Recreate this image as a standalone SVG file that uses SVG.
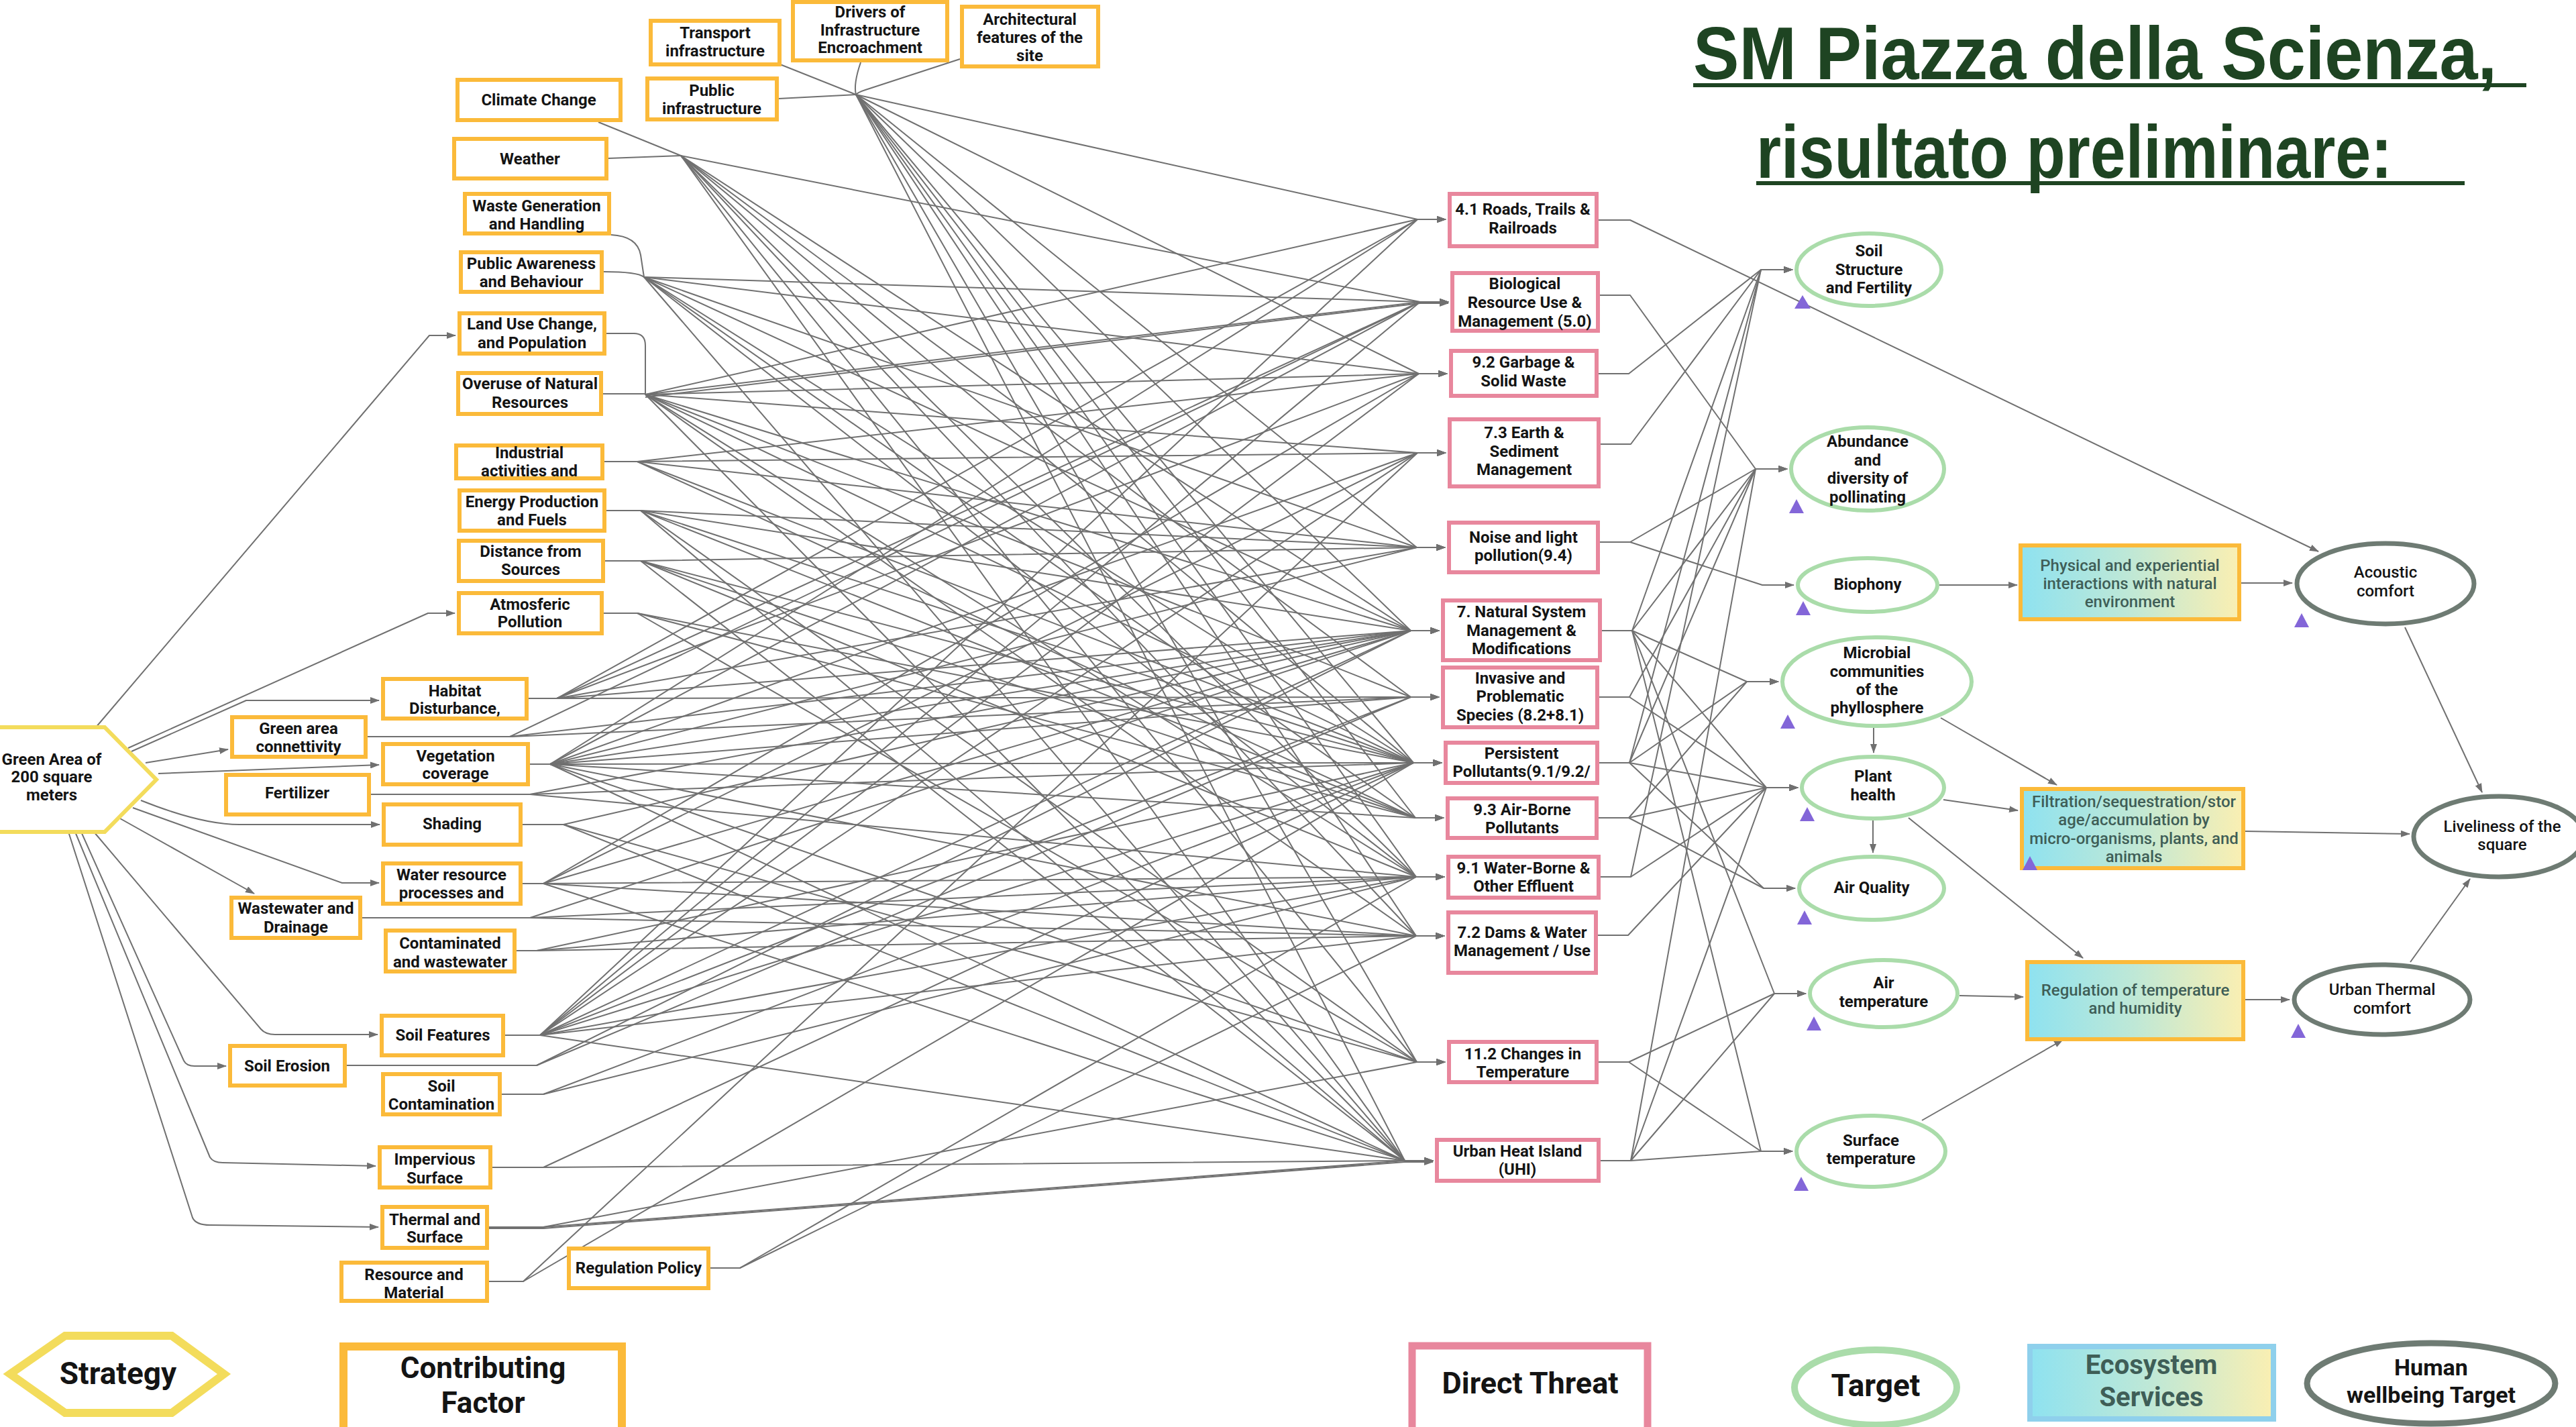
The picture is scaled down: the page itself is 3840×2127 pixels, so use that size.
<svg xmlns="http://www.w3.org/2000/svg" width="3840" height="2127" viewBox="0 0 3840 2127">
<style>
.cf{fill:#fff;stroke:#FBBA3A;stroke-width:6}
.dt{fill:#fff;stroke:#E8879D;stroke-width:6}
.tg{fill:#fff;stroke:#AADCAA;stroke-width:6}
.hw{fill:#fff;stroke:#6E7B73;stroke-width:7}
.es{fill:url(#esg);stroke:#FBBA3A;stroke-width:6}
.st{fill:#fff;stroke:#F3DC5C;stroke-width:6}
.t{font-family:Roboto,"Liberation Sans",sans-serif;font-weight:700;font-size:24px;fill:#141414;text-anchor:middle}
.tm{font-weight:500}
.te{fill:#3F5E57;font-weight:500}
.e{fill:none;stroke:#707070;stroke-width:2;marker-end:url(#ah);stroke-linejoin:round}
.en{fill:none;stroke:#707070;stroke-width:2;stroke-linejoin:round}
.tri{fill:#8366D8}
.ttl{font-family:"Liberation Sans",Arial,sans-serif;font-weight:700;font-size:112px;fill:#1E4422}
.lg{font-family:Roboto,"Liberation Sans",sans-serif;font-weight:700;fill:#141414;text-anchor:middle}
</style>
<defs>
<marker id="ah" markerUnits="userSpaceOnUse" markerWidth="14" markerHeight="10" refX="13" refY="5" orient="auto"><path d="M0,0 L14,5 L0,10 z" fill="#707070"/></marker>
<linearGradient id="esg" x1="0" y1="0" x2="1" y2="0"><stop offset="0" stop-color="#8EE2F0"/><stop offset="0.5" stop-color="#BFE8D6"/><stop offset="1" stop-color="#FAEFB2"/></linearGradient>
</defs>
<rect width="3840" height="2127" fill="#fff"/>

<g id="title">
<text class="ttl" x="2524" y="118" textLength="1198" lengthAdjust="spacingAndGlyphs">SM Piazza della Scienza,</text>
<rect x="2524" y="124" width="1242" height="6" fill="#1E4422"/>
<text class="ttl" x="2618" y="265" textLength="948" lengthAdjust="spacingAndGlyphs">risultato preliminare:</text>
<rect x="2618" y="270" width="1056" height="6" fill="#1E4422"/>
</g>

<g id="connectors">
<!-- strategy to factors -->
<path class="e" d="M143 1084 L640 500 H679"/>
<path class="e" d="M191 1115 L638 914 H678"/>
<path class="e" d="M196 1120 L367 1044 H565"/>
<path class="e" d="M217 1137 L340 1117"/>
<path class="e" d="M236 1153 L565 1140"/>
<path class="e" d="M210 1193 Q300 1229 357 1229 H566"/>
<path class="e" d="M198 1204 L510 1316 H565"/>
<path class="e" d="M179 1220 L379 1332"/>
<path class="e" d="M140 1240 L389 1534 Q396 1542 410 1542 H563"/>
<path class="e" d="M121 1240 L274 1581 Q278 1589 290 1589 H337"/>
<path class="e" d="M112 1240 L313 1725 Q318 1733 332 1733 L560 1738"/>
<path class="e" d="M102 1240 L287 1815 Q292 1826 313 1826 L564 1829"/>
<!-- feeders into merge points -->
<path class="en" d="M1163 96 L1276 141"/>
<path class="en" d="M1161 147 L1276 141"/>
<path class="en" d="M1283 93 Q1272 125 1276 141"/>
<path class="en" d="M1431 88 L1290 134 Q1278 138 1276 141"/>
<path class="en" d="M892 182 L1015 232"/>
<path class="en" d="M907 236 L1015 232"/>
<path class="en" d="M911 350 Q950 352 955 380 L960 413"/>
<path class="en" d="M900 405 Q950 405 960 413"/>
<path class="en" d="M904 497 H945 Q962 497 962 515 V588"/>
<path class="en" d="M899 587 H962"/>
<!-- M1 infrastructure group -->
<path class="e" d="M1276 141 L2113 327 H2155"/>
<path class="e" d="M1276 141 L2115 557 H2157"/>
<path class="e" d="M1276 141 L2112 816 H2154"/>
<path class="e" d="M1276 141 L2103 940 H2145"/>
<path class="e" d="M1276 141 L2107 1137 H2149"/>
<path class="e" d="M1276 141 L2110 1219 H2152"/>
<path class="e" d="M1276 141 L2111 1307 H2153"/>
<path class="e" d="M1276 141 L2111 1395 H2153"/>
<path class="e" d="M1276 141 L2112 1583 H2154"/>
<path class="e" d="M1276 141 L2094 1730 H2136"/>
<!-- M2 climate/weather -->
<path class="e" d="M1015 232 L2117 450 H2159"/>
<path class="e" d="M1015 232 L2103 940 H2145"/>
<path class="e" d="M1015 232 L2103 1039 H2145"/>
<path class="e" d="M1015 232 L2107 1137 H2149"/>
<path class="e" d="M1015 232 L2111 1307 H2153"/>
<path class="e" d="M1015 232 L2111 1395 H2153"/>
<path class="e" d="M1015 232 L2112 1583 H2154"/>
<path class="e" d="M1015 232 L2094 1730 H2136"/>
<!-- M3 waste/awareness -->
<path class="e" d="M960 413 L2117 450 H2159"/>
<path class="e" d="M960 413 L2115 557 H2157"/>
<path class="e" d="M960 413 L2112 816 H2154"/>
<path class="e" d="M960 413 L2103 940 H2145"/>
<path class="e" d="M960 413 L2107 1137 H2149"/>
<path class="e" d="M960 413 L2110 1219 H2152"/>
<path class="e" d="M960 413 L2111 1307 H2153"/>
<path class="e" d="M960 413 L2094 1730 H2136"/>
<!-- M4 land use/overuse -->
<path class="e" d="M962 588 L2113 327 H2155"/>
<path class="e" d="M962 588 L2117 450 H2159"/>
<path class="e" d="M962 592 L2117 452 H2159"/>
<path class="e" d="M962 588 L2115 557 H2157"/>
<path class="e" d="M962 588 L2113 675 H2155"/>
<path class="e" d="M962 588 L2103 940 H2145"/>
<path class="e" d="M962 588 L2103 1039 H2145"/>
<path class="e" d="M962 588 L2107 1137 H2149"/>
<path class="e" d="M962 588 L2111 1307 H2153"/>
<path class="e" d="M962 588 L2111 1395 H2153"/>
<path class="e" d="M962 588 L2094 1730 H2136"/>
<!-- industrial -->
<path class="e" d="M901 688 H950 L2115 557 H2157"/>
<path class="e" d="M901 688 H950 L2113 675 H2155"/>
<path class="e" d="M901 688 H950 L2112 816 H2154"/>
<path class="e" d="M901 688 H950 L2107 1137 H2149"/>
<path class="e" d="M901 688 H950 L2110 1219 H2152"/>
<!-- energy -->
<path class="e" d="M904 761 H955 L2112 816 H2154"/>
<path class="e" d="M904 761 H955 L2103 940 H2145"/>
<path class="e" d="M904 761 H955 L2107 1137 H2149"/>
<path class="e" d="M904 761 H955 L2110 1219 H2152"/>
<path class="e" d="M904 761 H955 L2112 1583 H2154"/>
<path class="e" d="M904 761 H955 L2094 1730 H2136"/>
<!-- distance -->
<path class="e" d="M902 836 H955 L2112 816 H2154"/>
<path class="e" d="M902 836 H955 L2107 1137 H2149"/>
<path class="e" d="M902 836 H955 L2110 1219 H2152"/>
<path class="e" d="M902 836 H955 L2111 1307 H2153"/>
<path class="e" d="M902 836 H955 L2094 1730 H2136"/>
<!-- atmosferic -->
<path class="e" d="M900 914 H950 L2107 1137 H2149"/>
<path class="e" d="M900 914 H950 L2110 1219 H2152"/>
<path class="e" d="M900 914 H950 L2112 1583 H2154"/>
<!-- habitat -->
<path class="e" d="M788 1041 H830 L2113 327 H2155"/>
<path class="e" d="M788 1041 H830 L2117 450 H2159"/>
<path class="e" d="M788 1041 H830 L2115 557 H2157"/>
<path class="e" d="M788 1041 H830 L2112 816 H2154"/>
<path class="e" d="M788 1041 H830 L2103 940 H2145"/>
<path class="e" d="M788 1041 H830 L2103 1039 H2145"/>
<!-- green area connectivity -->
<path class="e" d="M548 1098 H760 L2117 450 H2159"/>
<path class="e" d="M548 1098 H760 L2103 940 H2145"/>
<path class="e" d="M548 1098 H760 L2103 1039 H2145"/>
<!-- vegetation -->
<path class="e" d="M790 1139 H820 L2113 327 H2155"/>
<path class="e" d="M790 1139 H820 L2117 450 H2159"/>
<path class="e" d="M790 1139 H820 L2113 675 H2155"/>
<path class="e" d="M790 1139 H820 L2112 816 H2154"/>
<path class="e" d="M790 1139 H820 L2103 940 H2145"/>
<path class="e" d="M790 1139 H820 L2103 1039 H2145"/>
<path class="e" d="M790 1139 H820 L2107 1137 H2149"/>
<path class="e" d="M790 1139 H820 L2110 1219 H2152"/>
<path class="e" d="M790 1139 H820 L2111 1395 H2153"/>
<path class="e" d="M790 1139 H820 L2112 1583 H2154"/>
<path class="e" d="M790 1139 H820 L2094 1730 H2136"/>
<!-- fertilizer -->
<path class="e" d="M553 1184 H790 L2103 940 H2145"/>
<path class="e" d="M553 1184 H790 L2107 1137 H2149"/>
<path class="e" d="M553 1184 H790 L2111 1307 H2153"/>
<!-- shading -->
<path class="e" d="M779 1229 H840 L2103 940 H2145"/>
<path class="e" d="M779 1229 H840 L2112 1583 H2154"/>
<path class="e" d="M779 1229 H840 L2094 1730 H2136"/>
<!-- water resource -->
<path class="e" d="M779 1317 H810 L2115 557 H2157"/>
<path class="e" d="M779 1317 H810 L2113 675 H2155"/>
<path class="e" d="M779 1317 H810 L2103 940 H2145"/>
<path class="e" d="M779 1317 H810 L2111 1307 H2153"/>
<path class="e" d="M779 1317 H810 L2111 1395 H2153"/>
<path class="e" d="M779 1317 H810 L2094 1730 H2136"/>
<!-- wastewater -->
<path class="e" d="M540 1368 H790 L2103 940 H2145"/>
<path class="e" d="M540 1368 H790 L2111 1307 H2153"/>
<path class="e" d="M540 1368 H790 L2111 1395 H2153"/>
<!-- contaminated -->
<path class="e" d="M770 1417 H800 L2107 1137 H2149"/>
<path class="e" d="M770 1417 H800 L2111 1307 H2153"/>
<path class="e" d="M770 1417 H800 L2111 1395 H2153"/>
<!-- soil features -->
<path class="e" d="M753 1543 H805 L2113 327 H2155"/>
<path class="e" d="M753 1543 H805 L2117 450 H2159"/>
<path class="e" d="M753 1543 H805 L2115 557 H2157"/>
<path class="e" d="M753 1543 H805 L2113 675 H2155"/>
<path class="e" d="M753 1543 H805 L2103 940 H2145"/>
<path class="e" d="M753 1543 H805 L2103 1039 H2145"/>
<path class="e" d="M753 1543 H805 L2107 1137 H2149"/>
<path class="e" d="M753 1543 H805 L2111 1307 H2153"/>
<path class="e" d="M753 1543 H805 L2111 1395 H2153"/>
<path class="e" d="M753 1543 H805 L2094 1730 H2136"/>
<!-- soil erosion -->
<path class="e" d="M517 1588 H800 L2103 940 H2145"/>
<path class="e" d="M517 1588 H800 L2103 1039 H2145"/>
<!-- soil contamination -->
<path class="e" d="M748 1631 H810 L2107 1137 H2149"/>
<path class="e" d="M748 1631 H810 L2111 1307 H2153"/>
<!-- impervious -->
<path class="e" d="M734 1740 H810 L2107 1137 H2149"/>
<path class="e" d="M734 1740 H810 L2094 1730 H2136"/>
<!-- thermal -->
<path class="e" d="M729 1829 H810 L2112 1583 H2154"/>
<path class="e" d="M729 1829 H810 L2094 1730 H2136"/>
<path class="e" d="M729 1831 H810 L2094 1732 H2136"/>
<!-- resource and material -->
<path class="e" d="M729 1910 H780 L2113 675 H2155"/>
<path class="e" d="M729 1910 H780 L2107 1137 H2149"/>
<!-- regulation policy -->
<path class="e" d="M1059 1890 H1103 L2111 1307 H2153"/>
<path class="e" d="M1059 1890 H1103 L2111 1395 H2153"/>

<!-- threats to targets -->
<path class="e" d="M2383 328 H2430 L3456 822"/>
<path class="e" d="M2385 440 h45 L2617 699 H2664"/>
<path class="e" d="M2383 557 h45 L2625 402 H2672"/>
<path class="e" d="M2386 662 h45 L2625 402 H2672"/>
<path class="e" d="M2385 808 h45 L2617 699 H2664"/>
<path class="e" d="M2385 808 h45 L2627 872 H2674"/>
<path class="e" d="M2388 940 h45 L2625 402 H2672"/>
<path class="e" d="M2388 940 h45 L2617 699 H2664"/>
<path class="e" d="M2388 940 h45 L2604 1016 H2651"/>
<path class="e" d="M2388 940 h45 L2633 1174 H2680"/>
<path class="e" d="M2388 940 h45 L2645 1481 H2692"/>
<path class="e" d="M2388 940 h45 L2625 1716 H2672"/>
<path class="e" d="M2384 1039 h45 L2617 699 H2664"/>
<path class="e" d="M2384 1039 h45 L2633 1174 H2680"/>
<path class="e" d="M2384 1137 h45 L2625 402 H2672"/>
<path class="e" d="M2384 1137 h45 L2617 699 H2664"/>
<path class="e" d="M2384 1137 h45 L2604 1016 H2651"/>
<path class="e" d="M2384 1137 h45 L2633 1174 H2680"/>
<path class="e" d="M2384 1137 h45 L2629 1324 H2676"/>
<path class="e" d="M2383 1219 h45 L2604 1016 H2651"/>
<path class="e" d="M2383 1219 h45 L2633 1174 H2680"/>
<path class="e" d="M2383 1219 h45 L2629 1324 H2676"/>
<path class="e" d="M2386 1307 h45 L2625 402 H2672"/>
<path class="e" d="M2386 1307 h45 L2633 1174 H2680"/>
<path class="e" d="M2382 1394 h45 L2633 1174 H2680"/>
<path class="e" d="M2383 1583 h45 L2645 1481 H2692"/>
<path class="e" d="M2383 1583 h45 L2625 1716 H2672"/>
<path class="e" d="M2386 1730 h45 L2617 699 H2664"/>
<path class="e" d="M2386 1730 h45 L2633 1174 H2680"/>
<path class="e" d="M2386 1730 h45 L2645 1481 H2692"/>
<path class="e" d="M2386 1730 h45 L2625 1716 H2672"/>
<!-- targets to services / wellbeing -->
<path class="e" d="M2891 872 H3007"/>
<path class="e" d="M2893 1070 L3066 1170"/>
<path class="e" d="M2793 1085 V1122"/>
<path class="e" d="M2897 1192 L3008 1208"/>
<path class="e" d="M2845 1219 L3105 1428"/>
<path class="e" d="M2792 1223 V1271"/>
<path class="e" d="M2921 1484 L3016 1486"/>
<path class="e" d="M2865 1670 L3075 1550"/>
<path class="e" d="M3341 869 H3417"/>
<path class="e" d="M3347 1239 L3592 1243"/>
<path class="e" d="M3347 1490 H3413"/>
<path class="e" d="M3585 935 L3700 1181"/>
<path class="e" d="M3593 1434 L3682 1310"/>
</g>

<g id="strategy-green-area">
<polygon class="st" points="-80,1162 -3,1084 156,1084 233,1162 156,1240 -3,1240"/>
<text class="t" x="77"><tspan x="77" y="1140">Green Area of</tspan><tspan x="77" y="1166">200 square</tspan><tspan x="77" y="1193">meters</tspan></text>
</g>

<g id="cf-transport"><rect class="cf" x="970" y="31" width="192" height="65"/><text class="t"><tspan x="1066" y="57">Transport</tspan><tspan x="1066" y="84">infrastructure</tspan></text></g>
<g id="cf-drivers"><rect class="cf" x="1182" y="3" width="230" height="87"/><text class="t"><tspan x="1297" y="26">Drivers of</tspan><tspan x="1297" y="53">Infrastructure</tspan><tspan x="1297" y="79">Encroachment</tspan></text></g>
<g id="cf-architectural"><rect class="cf" x="1434" y="10" width="203" height="89"/><text class="t"><tspan x="1535" y="37">Architectural</tspan><tspan x="1535" y="64">features of the</tspan><tspan x="1535" y="91">site</tspan></text></g>
<g id="cf-public-infra"><rect class="cf" x="965" y="117" width="193" height="61"/><text class="t"><tspan x="1061" y="143">Public</tspan><tspan x="1061" y="170">infrastructure</tspan></text></g>
<g id="cf-climate"><rect class="cf" x="682" y="119" width="243" height="60"/><text class="t" x="803" y="157">Climate Change</text></g>
<g id="cf-weather"><rect class="cf" x="677" y="207" width="227" height="59"/><text class="t" x="790" y="245">Weather</text></g>
<g id="cf-waste"><rect class="cf" x="693" y="289" width="215" height="59"/><text class="t"><tspan x="800" y="315">Waste Generation</tspan><tspan x="800" y="342">and Handling</tspan></text></g>
<g id="cf-awareness"><rect class="cf" x="687" y="376" width="210" height="59"/><text class="t"><tspan x="792" y="401">Public Awareness</tspan><tspan x="792" y="428">and Behaviour</tspan></text></g>
<g id="cf-landuse"><rect class="cf" x="685" y="467" width="216" height="60"/><text class="t"><tspan x="793" y="491">Land Use Change,</tspan><tspan x="793" y="519">and Population</tspan></text></g>
<g id="cf-overuse"><rect class="cf" x="683" y="556" width="213" height="61"/><text class="t"><tspan x="790" y="580">Overuse of Natural</tspan><tspan x="790" y="608">Resources</tspan></text></g>
<g id="cf-industrial"><rect class="cf" x="680" y="664" width="218" height="49"/><text class="t"><tspan x="789" y="683">Industrial</tspan><tspan x="789" y="710">activities and</tspan></text></g>
<g id="cf-energy"><rect class="cf" x="685" y="731" width="216" height="60"/><text class="t"><tspan x="793" y="756">Energy Production</tspan><tspan x="793" y="783">and Fuels</tspan></text></g>
<g id="cf-distance"><rect class="cf" x="684" y="806" width="215" height="60"/><text class="t"><tspan x="791" y="830">Distance from</tspan><tspan x="791" y="857">Sources</tspan></text></g>
<g id="cf-atmosferic"><rect class="cf" x="684" y="884" width="213" height="60"/><text class="t"><tspan x="790" y="909">Atmosferic</tspan><tspan x="790" y="935">Pollution</tspan></text></g>
<g id="cf-habitat"><rect class="cf" x="571" y="1012" width="214" height="59"/><text class="t"><tspan x="678" y="1038">Habitat</tspan><tspan x="678" y="1064">Disturbance,</tspan></text></g>
<g id="cf-green-connectivity"><rect class="cf" x="346" y="1069" width="199" height="59"/><text class="t"><tspan x="445" y="1094">Green area</tspan><tspan x="445" y="1121">connettivity</tspan></text></g>
<g id="cf-vegetation"><rect class="cf" x="571" y="1109" width="216" height="60"/><text class="t"><tspan x="679" y="1135">Vegetation</tspan><tspan x="679" y="1161">coverage</tspan></text></g>
<g id="cf-fertilizer"><rect class="cf" x="337" y="1155" width="213" height="59"/><text class="t" x="443" y="1190">Fertilizer</text></g>
<g id="cf-shading"><rect class="cf" x="572" y="1199" width="204" height="60"/><text class="t" x="674" y="1236">Shading</text></g>
<g id="cf-water"><rect class="cf" x="571" y="1287" width="205" height="60"/><text class="t"><tspan x="673" y="1312">Water resource</tspan><tspan x="673" y="1339">processes and</tspan></text></g>
<g id="cf-wastewater"><rect class="cf" x="345" y="1338" width="192" height="60"/><text class="t"><tspan x="441" y="1362">Wastewater and</tspan><tspan x="441" y="1390">Drainage</tspan></text></g>
<g id="cf-contaminated"><rect class="cf" x="575" y="1387" width="192" height="61"/><text class="t"><tspan x="671" y="1414">Contaminated</tspan><tspan x="671" y="1442">and wastewater</tspan></text></g>
<g id="cf-soil-features"><rect class="cf" x="569" y="1514" width="181" height="59"/><text class="t" x="660" y="1551">Soil Features</text></g>
<g id="cf-soil-erosion"><rect class="cf" x="343" y="1559" width="171" height="59"/><text class="t" x="428" y="1597">Soil Erosion</text></g>
<g id="cf-soil-contamination"><rect class="cf" x="571" y="1601" width="174" height="60"/><text class="t"><tspan x="658" y="1627">Soil</tspan><tspan x="658" y="1654">Contamination</tspan></text></g>
<g id="cf-impervious"><rect class="cf" x="566" y="1710" width="165" height="60"/><text class="t"><tspan x="648" y="1736">Impervious</tspan><tspan x="648" y="1764">Surface</tspan></text></g>
<g id="cf-thermal"><rect class="cf" x="570" y="1799" width="156" height="61"/><text class="t"><tspan x="648" y="1826">Thermal and</tspan><tspan x="648" y="1852">Surface</tspan></text></g>
<g id="cf-resource"><rect class="cf" x="509" y="1882" width="217" height="57"/><text class="t"><tspan x="617" y="1908">Resource and</tspan><tspan x="617" y="1935">Material</tspan></text></g>
<g id="cf-regulation"><rect class="cf" x="848" y="1861" width="208" height="59"/><text class="t" x="952" y="1898">Regulation Policy</text></g>

<g id="dt-roads"><rect class="dt" x="2161" y="289" width="219" height="78"/><text class="t"><tspan x="2270" y="320">4.1 Roads, Trails &amp;</tspan><tspan x="2270" y="348">Railroads</tspan></text></g>
<g id="dt-biological"><rect class="dt" x="2165" y="407" width="217" height="86"/><text class="t"><tspan x="2273" y="431">Biological</tspan><tspan x="2273" y="459">Resource Use &amp;</tspan><tspan x="2273" y="487">Management (5.0)</tspan></text></g>
<g id="dt-garbage"><rect class="dt" x="2163" y="523" width="217" height="67"/><text class="t"><tspan x="2271" y="548">9.2 Garbage &amp;</tspan><tspan x="2271" y="576">Solid Waste</tspan></text></g>
<g id="dt-earth"><rect class="dt" x="2161" y="625" width="222" height="100"/><text class="t"><tspan x="2272" y="653">7.3 Earth &amp;</tspan><tspan x="2272" y="681">Sediment</tspan><tspan x="2272" y="708">Management</tspan></text></g>
<g id="dt-noise"><rect class="dt" x="2160" y="779" width="222" height="74"/><text class="t"><tspan x="2271" y="809">Noise and light</tspan><tspan x="2271" y="836">pollution(9.4)</tspan></text></g>
<g id="dt-natural-system"><rect class="dt" x="2151" y="895" width="234" height="89"/><text class="t"><tspan x="2268" y="920">7. Natural System</tspan><tspan x="2268" y="948">Management &amp;</tspan><tspan x="2268" y="975">Modifications</tspan></text></g>
<g id="dt-invasive"><rect class="dt" x="2151" y="995" width="230" height="89"/><text class="t"><tspan x="2266" y="1019">Invasive and</tspan><tspan x="2266" y="1046">Problematic</tspan><tspan x="2266" y="1074">Species (8.2+8.1)</tspan></text></g>
<g id="dt-persistent"><rect class="dt" x="2155" y="1107" width="226" height="60"/><text class="t"><tspan x="2268" y="1131">Persistent</tspan><tspan x="2268" y="1158">Pollutants(9.1/9.2/</tspan></text></g>
<g id="dt-airborne"><rect class="dt" x="2158" y="1190" width="222" height="59"/><text class="t"><tspan x="2269" y="1215">9.3 Air-Borne</tspan><tspan x="2269" y="1242">Pollutants</tspan></text></g>
<g id="dt-waterborne"><rect class="dt" x="2159" y="1277" width="224" height="61"/><text class="t"><tspan x="2271" y="1302">9.1 Water-Borne &amp;</tspan><tspan x="2271" y="1329">Other Effluent</tspan></text></g>
<g id="dt-dams"><rect class="dt" x="2159" y="1360" width="220" height="90"/><text class="t"><tspan x="2269" y="1398">7.2 Dams &amp; Water</tspan><tspan x="2269" y="1425">Management / Use</tspan></text></g>
<g id="dt-temperature"><rect class="dt" x="2160" y="1553" width="220" height="60"/><text class="t"><tspan x="2270" y="1579">11.2 Changes in</tspan><tspan x="2270" y="1606">Temperature</tspan></text></g>
<g id="dt-uhi"><rect class="dt" x="2142" y="1699" width="241" height="61"/><text class="t"><tspan x="2262" y="1724">Urban Heat Island</tspan><tspan x="2262" y="1751">(UHI)</tspan></text></g>

<g id="tg-soil"><ellipse class="tg" cx="2786" cy="402" rx="108" ry="54"/><text class="t"><tspan x="2786" y="382">Soil</tspan><tspan x="2786" y="410">Structure</tspan><tspan x="2786" y="437">and Fertility</tspan></text><polygon class="tri" points="2675,460 2687,440 2699,460"/></g>
<g id="tg-pollinators"><ellipse class="tg" cx="2784" cy="699" rx="114" ry="62"/><text class="t"><tspan x="2784" y="666">Abundance</tspan><tspan x="2784" y="694">and</tspan><tspan x="2784" y="721">diversity of</tspan><tspan x="2784" y="749">pollinating</tspan></text><polygon class="tri" points="2667,765 2678,744 2689,765"/></g>
<g id="tg-biophony"><ellipse class="tg" cx="2784" cy="872" rx="104" ry="40"/><text class="t" x="2784" y="879">Biophony</text><polygon class="tri" points="2677,917 2688,896 2699,917"/></g>
<g id="tg-microbial"><ellipse class="tg" cx="2798" cy="1016" rx="141" ry="66"/><text class="t"><tspan x="2798" y="981">Microbial</tspan><tspan x="2798" y="1009">communities</tspan><tspan x="2798" y="1036">of the</tspan><tspan x="2798" y="1063">phyllosphere</tspan></text><polygon class="tri" points="2654,1086 2665,1065 2676,1086"/></g>
<g id="tg-plant"><ellipse class="tg" cx="2792" cy="1174" rx="106" ry="46"/><text class="t"><tspan x="2792" y="1165">Plant</tspan><tspan x="2792" y="1193">health</tspan></text><polygon class="tri" points="2683,1224 2694,1203 2705,1224"/></g>
<g id="tg-airquality"><ellipse class="tg" cx="2790" cy="1324" rx="108" ry="47"/><text class="t" x="2790" y="1331">Air Quality</text><polygon class="tri" points="2679,1378 2690,1357 2701,1378"/></g>
<g id="tg-airtemp"><ellipse class="tg" cx="2808" cy="1481" rx="110" ry="50"/><text class="t"><tspan x="2808" y="1473">Air</tspan><tspan x="2808" y="1501">temperature</tspan></text><polygon class="tri" points="2693,1536 2704,1515 2715,1536"/></g>
<g id="tg-surfacetemp"><ellipse class="tg" cx="2789" cy="1716" rx="111" ry="53"/><text class="t"><tspan x="2789" y="1708">Surface</tspan><tspan x="2789" y="1735">temperature</tspan></text><polygon class="tri" points="2674,1775 2685,1754 2696,1775"/></g>

<g id="es-interactions"><rect class="es" x="3012" y="813" width="326" height="110"/><text class="t te"><tspan x="3175" y="851">Physical and experiential</tspan><tspan x="3175" y="878">interactions with natural</tspan><tspan x="3175" y="905">environment</tspan></text></g>
<g id="es-filtration"><rect class="es" x="3014" y="1176" width="330" height="118"/><text class="t te"><tspan x="3181" y="1203" textLength="304" lengthAdjust="spacingAndGlyphs">Filtration/sequestration/stor</tspan><tspan x="3181" y="1230">age/accumulation by</tspan><tspan x="3181" y="1258">micro-organisms, plants, and</tspan><tspan x="3181" y="1285">animals</tspan></text><polygon class="tri" points="3015,1297 3026,1276 3037,1297"/></g>
<g id="es-regulation"><rect class="es" x="3022" y="1434" width="322" height="115"/><text class="t te"><tspan x="3183" y="1484">Regulation of temperature</tspan><tspan x="3183" y="1511">and humidity</tspan></text></g>

<g id="hw-acoustic"><ellipse class="hw" cx="3556" cy="870" rx="132" ry="60"/><text class="t tm"><tspan x="3556" y="861">Acoustic</tspan><tspan x="3556" y="889">comfort</tspan></text><polygon class="tri" points="3420,935 3431,914 3442,935"/></g>
<g id="hw-liveliness"><ellipse class="hw" cx="3725" cy="1247" rx="127" ry="60"/><text class="t tm"><tspan x="3730" y="1240">Liveliness of the</tspan><tspan x="3730" y="1267">square</tspan></text></g>
<g id="hw-thermal"><ellipse class="hw" cx="3551" cy="1490" rx="131" ry="52"/><text class="t tm"><tspan x="3551" y="1483">Urban Thermal</tspan><tspan x="3551" y="1511">comfort</tspan></text><polygon class="tri" points="3415,1547 3426,1526 3437,1547"/></g>

<g id="legend">
<g id="lg-strategy"><polygon fill="#fff" stroke="#F3DC5C" stroke-width="12" points="15,2048 97,1991 256,1991 334,2048 256,2106 97,2106"/><text class="lg" x="176" y="2063" font-size="46">Strategy</text></g>
<g id="lg-factor"><rect fill="#fff" stroke="#FBBA3A" stroke-width="12" x="512" y="2007" width="415" height="135"/><text class="lg" font-size="44"><tspan x="720" y="2054">Contributing</tspan><tspan x="720" y="2106">Factor</tspan></text></g>
<g id="lg-threat"><rect fill="#fff" stroke="#E8879D" stroke-width="11" x="2105" y="2006" width="351" height="135"/><text class="lg" x="2281" y="2077" font-size="45">Direct Threat</text></g>
<g id="lg-target"><ellipse fill="#fff" stroke="#AADCAA" stroke-width="10" cx="2796" cy="2068" rx="121" ry="56"/><text class="lg" x="2796" y="2081" font-size="46">Target</text></g>
<g id="lg-es"><rect fill="url(#esg)" stroke="#8FD0EC" stroke-width="8" x="3026" y="2007" width="363" height="108"/><text class="lg" font-size="40" style="fill:#3F5E57"><tspan x="3207" y="2048">Ecosystem</tspan><tspan x="3207" y="2096">Services</tspan></text></g>
<g id="lg-human"><ellipse fill="#fff" stroke="#6E7B73" stroke-width="9" cx="3624" cy="2062" rx="185" ry="60"/><text class="lg" font-size="34"><tspan x="3624" y="2050">Human</tspan><tspan x="3624" y="2091">wellbeing Target</tspan></text></g>
</g>
</svg>
